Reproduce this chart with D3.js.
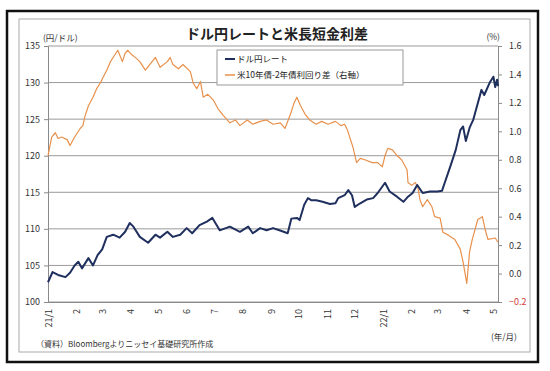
<!DOCTYPE html>
<html><head><meta charset="utf-8">
<script src="https://cdn.jsdelivr.net/npm/d3@7"></script>
<style>
body{margin:0;background:#fff;}
svg text{font-family:"Noto Sans CJK JP","Noto Sans",sans-serif;}
</style></head>
<body><svg id="c" width="550" height="371"></svg>
<script>
// observations: days since 2021-01-01 and values
const startDate = "2021-01-01";
const endDay = 490;
const usdjpyDays = [0,5,11,19,24,29,33,37,44,49,54,59,64,71,78,84,89,93,100,109,117,122,130,136,144,151,157,165,173,179,187,198,209,218,223,231,238,245,252,261,265,271,274,279,283,287,292,299,307,313,316,323,327,331,334,340,347,354,359,367,372,380,387,392,397,402,408,416,424,429,432,438,444,449,452,455,459,463,465,472,475,481,485,487,489,490];
const usdjpy = [102.7,104.1,103.7,103.4,104.0,105.0,105.5,104.6,106.0,105.0,106.4,107.2,108.9,109.2,108.8,109.6,110.8,110.3,108.9,108.1,109.2,108.8,109.6,108.9,109.2,110.1,109.4,110.5,111.0,111.5,109.8,110.3,109.6,110.3,109.4,110.1,109.8,110.1,109.8,109.4,111.4,111.5,111.2,113.3,114.2,113.9,113.9,113.7,113.4,113.5,114.2,114.6,115.3,114.6,113.0,113.5,114.0,114.2,114.9,116.3,115.1,114.4,113.7,114.4,114.9,116.0,114.9,115.1,115.1,115.2,116.3,118.5,120.8,123.5,124.0,122.0,123.8,124.9,125.8,129.0,128.3,130.0,130.8,129.4,130.4,129.5];
const spreadDays = [0,4,8,11,15,21,24,29,35,38,40,44,49,53,57,60,64,68,73,76,81,84,87,91,95,100,106,111,117,122,130,133,136,142,147,155,158,162,166,169,174,180,185,191,198,204,209,217,223,231,238,245,253,258,264,268,271,275,280,285,292,298,305,313,319,323,326,332,336,340,345,353,359,364,367,370,375,380,385,391,392,396,400,403,405,408,413,418,421,427,430,436,443,449,452,456,459,462,468,473,476,479,487,490];
const spread = [0.83,0.96,0.99,0.95,0.96,0.94,0.90,0.96,1.02,1.04,1.10,1.18,1.24,1.30,1.34,1.38,1.43,1.49,1.54,1.57,1.49,1.55,1.57,1.54,1.52,1.49,1.43,1.47,1.52,1.45,1.49,1.52,1.47,1.44,1.47,1.42,1.34,1.30,1.35,1.24,1.26,1.22,1.16,1.11,1.06,1.08,1.04,1.08,1.05,1.07,1.08,1.05,1.06,1.02,1.12,1.20,1.24,1.18,1.12,1.08,1.05,1.07,1.05,1.07,1.04,1.05,1.01,0.89,0.78,0.81,0.80,0.78,0.78,0.75,0.83,0.88,0.87,0.83,0.80,0.73,0.64,0.62,0.64,0.60,0.52,0.47,0.52,0.47,0.40,0.39,0.29,0.27,0.24,0.17,0.08,-0.07,0.15,0.24,0.38,0.40,0.31,0.24,0.25,0.22];
const leftTicks = [100,105,110,115,120,125,130,135];
const rightTicks = [-0.2,0,0.2,0.4,0.6,0.8,1.0,1.2,1.4,1.6];
const monthTicks = ["2021-01-01","2021-02-01","2021-03-01","2021-04-01","2021-05-01","2021-06-01","2021-07-01","2021-08-01","2021-09-01","2021-10-01","2021-11-01","2021-12-01","2022-01-01","2022-02-01","2022-03-01","2022-04-01","2022-05-01"];
const monthLabels = ["21/1","2","3","4","5","6","7","8","9","10","11","12","22/1","2","3","4","5"];
const title = "ドル円レートと米長短金利差";
const legendLabels = ["ドル円レート","米10年債-2年債利回り差（右軸）"];

const parse = d3.timeParse("%Y-%m-%d");
const t0 = parse(startDate);
const day = n => d3.timeDay.offset(t0, n);

const svg = d3.select("#c");
const L=48,R=498,T=46,B=302;
const x = d3.scaleTime().domain([t0, day(endDay)]).range([L,R]);
const yL = d3.scaleLinear().domain([100,135]).range([B,T]);
const yR = d3.scaleLinear().domain([-0.2,1.6]).range([B,T]);

// frames
svg.append("rect").attr("x",7).attr("y",11).attr("width",531).attr("height",351)
  .attr("fill","none").attr("stroke","#111").attr("stroke-width",2.5);
svg.append("rect").attr("x",19).attr("y",19).attr("width",511).attr("height",333)
  .attr("fill","none").attr("stroke","#aaa").attr("stroke-width",1);

// grid
svg.append("g").selectAll("line").data(leftTicks).join("line")
  .attr("x1",L).attr("x2",R).attr("y1",d=>yL(d)).attr("y2",d=>yL(d))
  .attr("stroke","#9a9a9a").attr("stroke-width",1);

// left axis
const gL = svg.append("g").attr("transform",`translate(${L},0)`)
  .call(d3.axisLeft(yL).tickValues(leftTicks).tickSize(4).tickPadding(4));
gL.select(".domain").attr("stroke","#8a8a8a");
gL.selectAll(".tick line").attr("stroke","#8a8a8a");
gL.selectAll("text").attr("fill","#333").style("font-size","9px").attr("font-family","Liberation Sans, Arial, sans-serif");

// right axis
const gR = svg.append("g").attr("transform",`translate(${R},0)`)
  .call(d3.axisRight(yR).tickValues(rightTicks).tickSize(4).tickPadding(7).tickFormat(d3.format(".1f")));
gR.select(".domain").attr("stroke","#8a8a8a");
gR.selectAll(".tick line").attr("stroke","#8a8a8a");
gR.selectAll("text").attr("fill",d=>d<0?"#d23c3c":"#333").style("font-size","9px").attr("font-family","Liberation Sans, Arial, sans-serif");

// bottom axis
const gB = svg.append("g").attr("transform",`translate(0,${B})`)
  .call(d3.axisBottom(x).tickValues(monthTicks.map(parse)).tickSize(0).tickFormat((d,i)=>monthLabels[i]));
gB.select(".domain").attr("stroke","#8a8a8a");
gB.selectAll("text").attr("fill","#333").style("font-size","9px").attr("font-family","Liberation Sans, Arial, sans-serif")
  .attr("transform","rotate(-90)").attr("text-anchor","end").attr("x",-7).attr("y",0).attr("dy","0.35em");

// lines
const sp = spreadDays.map((d,i)=>({d:day(d), v:spread[i]}));
const uj = usdjpyDays.map((d,i)=>({d:day(d), v:usdjpy[i]}));
svg.append("path").datum(sp).attr("fill","none").attr("stroke","#e8914c").attr("stroke-width",1.2)
  .attr("stroke-linejoin","round").attr("d", d3.line().x(d=>x(d.d)).y(d=>yR(d.v)));
svg.append("path").datum(uj).attr("fill","none").attr("stroke","#1f2f5e").attr("stroke-width",2)
  .attr("stroke-linejoin","round").attr("d", d3.line().x(d=>x(d.d)).y(d=>yL(d.v)));

// title and labels
svg.append("text").attr("x",277).attr("y",39).attr("text-anchor","middle")
  .style("font-size","14px").style("font-weight","bold").attr("fill","#222").text(title);
svg.append("text").attr("x",43).attr("y",41).style("font-size","8.5px").attr("fill","#333").text("(円/ドル)");
svg.append("text").attr("x",500).attr("y",40).attr("text-anchor","end").style("font-size","8.5px").attr("fill","#333").text("(%)");
svg.append("text").attr("x",517).attr("y",340).attr("text-anchor","end").style("font-size","8.5px").attr("fill","#333").text("(年/月)");
svg.append("text").attr("x",36).attr("y",347).style("font-size","8px").attr("fill","#333").text("（資料）Bloombergよりニッセイ基礎研究所作成");

// legend
const lg = svg.append("g");
lg.append("rect").attr("x",217).attr("y",50).attr("width",186).attr("height",35)
  .attr("fill","#fff").attr("stroke","#999");
const lc = ["#1f2f5e","#e8914c"];
legendLabels.forEach((t,i)=>{
  const yy = 59 + i*16;
  lg.append("line").attr("x1",225).attr("x2",235).attr("y1",yy).attr("y2",yy).attr("stroke",lc[i]).attr("stroke-width",i?1.5:2);
  lg.append("text").attr("x",237).attr("y",yy).attr("dy","0.35em").style("font-size","8.5px").attr("fill","#222").text(t);
});
</script></body></html>
